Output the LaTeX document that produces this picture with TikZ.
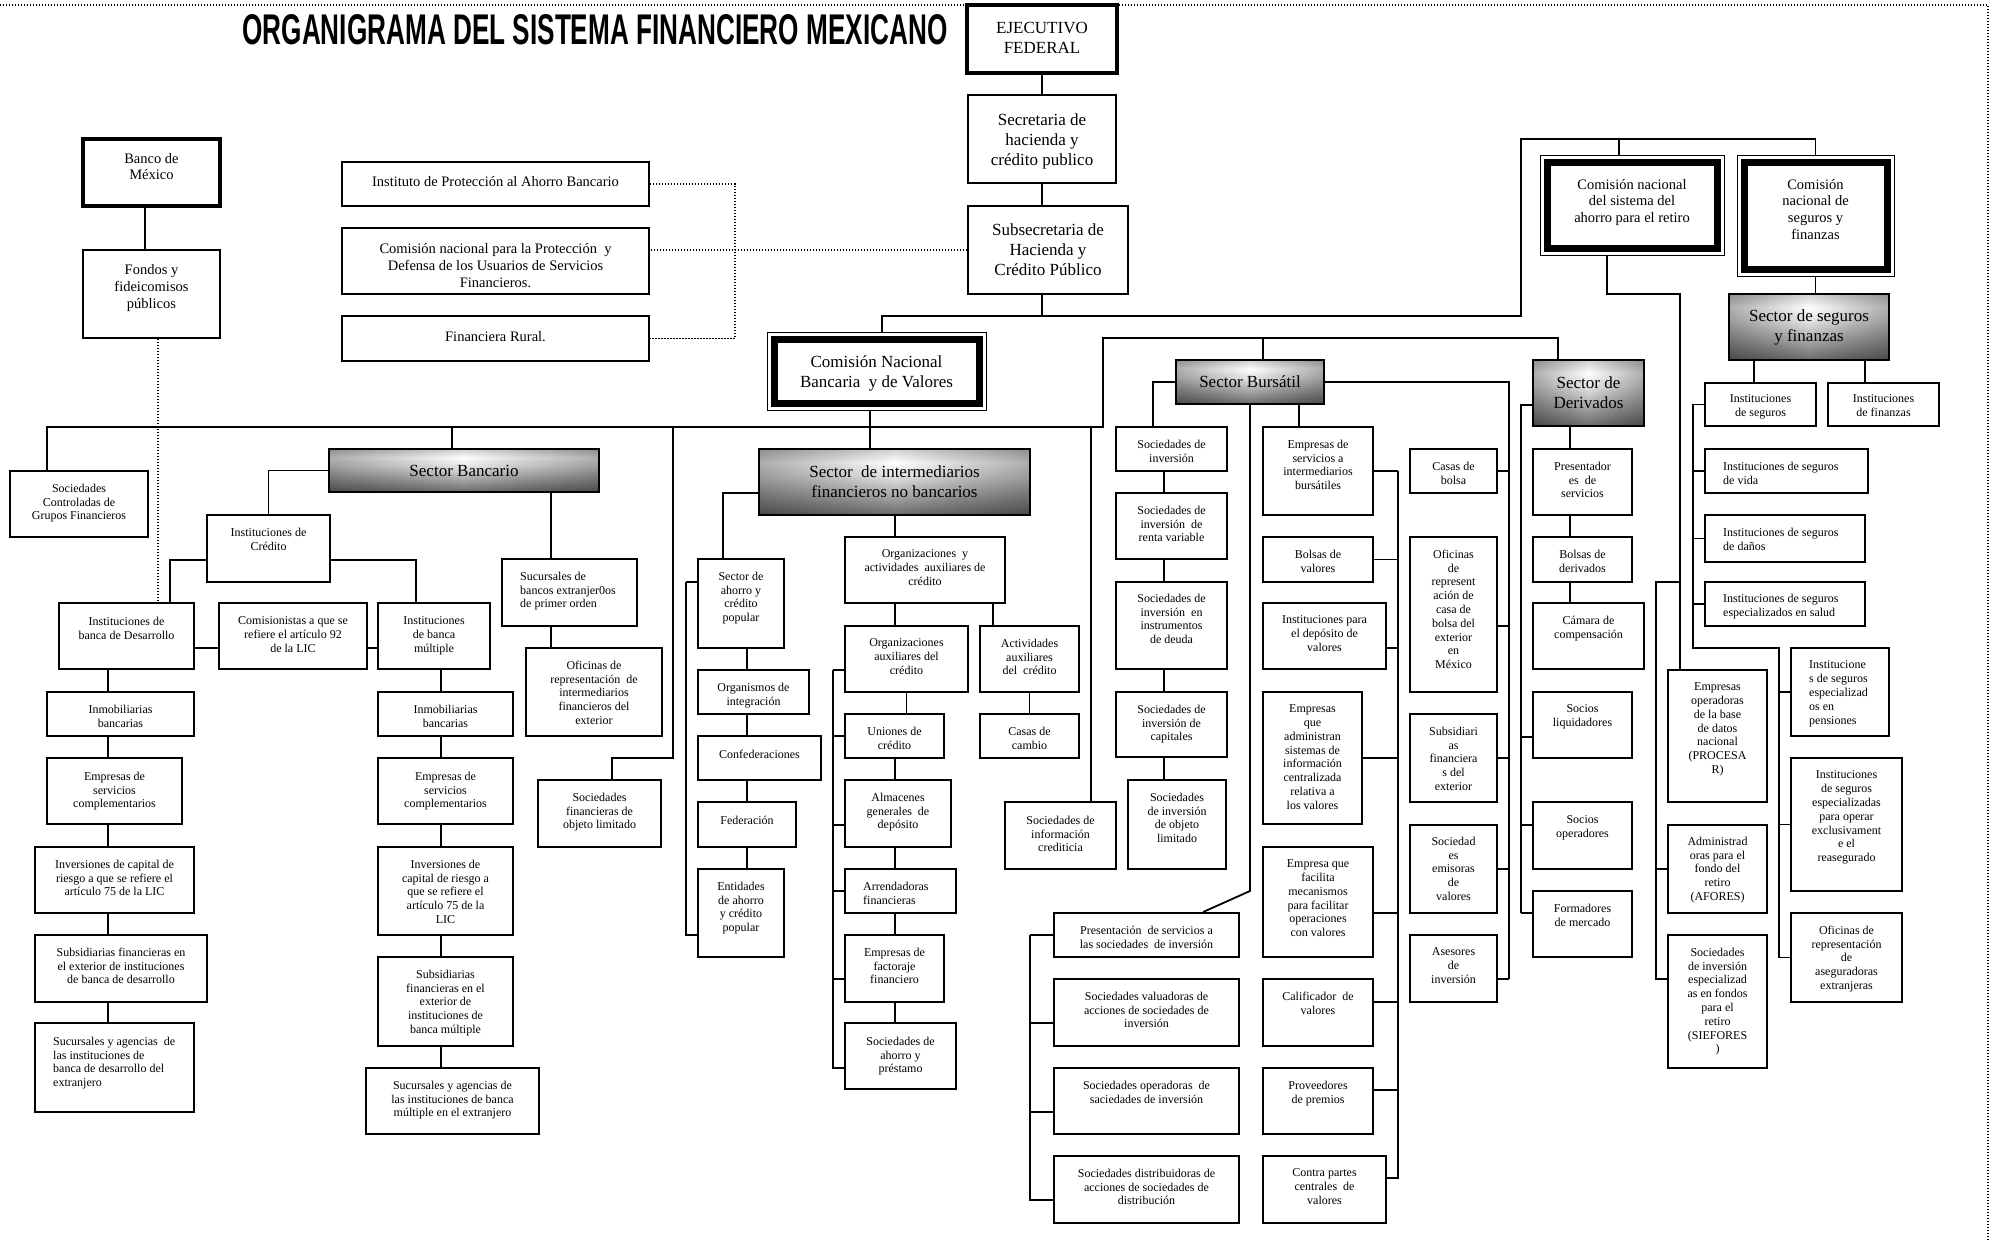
\documentclass[tikz,border=0pt]{standalone}
\usepackage{fontspec}
\setmainfont{Liberation Serif}
\newfontfamily\titlefont{Liberation Sans}
\usepackage{graphicx}
\usetikzlibrary{fadings}
\pgfdeclareverticalshading{sectshade}{100bp}{rgb(0bp)=(0.42,0.42,0.42); rgb(25bp)=(0.42,0.42,0.42); rgb(40bp)=(0.66,0.66,0.66); rgb(55bp)=(0.90,0.90,0.90); rgb(65bp)=(1,1,1); rgb(75bp)=(0.82,0.82,0.82); rgb(100bp)=(0.82,0.82,0.82)}
\tikzfading[name=sidefade, left color=transparent!68, right color=transparent!68, middle color=transparent!100]
\tikzset{
  box/.style={draw, line width=1.9pt, inner sep=0pt, fill=white},
  thickbox/.style={draw, line width=3.8pt, inner sep=0pt, fill=white},
  conn/.style={line width=1.8pt},
  dotconn/.style={line width=1.3pt, dash pattern=on 1.3pt off 1.7pt},
  fs/.style={font=\fontsize{12}{13.8}\selectfont, align=center, inner sep=0pt},
  fm/.style={font=\fontsize{14.5}{16.8}\selectfont, align=center, inner sep=0pt},
  fl/.style={font=\fontsize{17}{20}\selectfont, align=center, inner sep=0pt},
  sect/.style={draw, line width=1.9pt, inner sep=0pt, shading=sectshade, fl,
    path picture={\fill[black, path fading=sidefade] (path picture bounding box.south west) rectangle (path picture bounding box.north east);}},
}
% #1 text style, #2 name, #3 x1, #4 y1, #5 x2, #6 y2, #7 first line y, #8 text
\newcommand\obx[8][]{%
  \node[box, minimum width={(#5-#3)*1pt}, minimum height={(#6-#4)*1pt}] (#2) at ({(#3+#5)/2},{(#4+#6)/2}) {};
  \node[fs, anchor=north, #1] (#2t) at ({(#3+#5)/2},{#7-4.3}) {#8};}
\newcommand\obxl[8][]{%
  \node[box, minimum width={(#5-#3)*1pt}, minimum height={(#6-#4)*1pt}] (#2) at ({(#3+#5)/2},{(#4+#6)/2}) {};
  \node[fs, anchor=north west, align=left, #1] (#2t) at ({#3+18},{#7-4.3}) {#8};}
\begin{document}
\begin{tikzpicture}[x=1pt,y=-1pt]
\path[use as bounding box, fill=white] (0,0) rectangle (1996,1241);
% page frame
\draw[dotconn] (0,5) -- (1988,5) -- (1988,1241);
% title
\node[inner sep=0pt] (title) at (595,30) {\resizebox{705pt}{30pt}{\titlefont\bfseries ORGANIGRAMA DEL SISTEMA FINANCIERO MEXICANO}};

% ---------- top
\node[thickbox, minimum width=150pt, minimum height=68pt] (ejec) at (1042,39) {};
\node[fl, anchor=north] (eject) at (1042,21.9) {EJECUTIVO\\FEDERAL};
\obx[fl,yshift=-1.8pt]{secr}{968}{95}{1116}{183}{116}{Secretaria de\\hacienda y\\crédito publico}
\obx[fl,yshift=-1.8pt]{subs}{968}{206}{1128}{294}{226}{Subsecretaria de\\Hacienda y\\Crédito Público}

\node[thickbox, line width=3.4pt, minimum width=137pt, minimum height=67pt] (banx) at (151.5,172.5) {};
\node[fm, anchor=north] (banxt) at (151.5,152.8) {Banco de\\México};
\obx[fm,yshift=-0.9pt]{fond}{83}{250}{220}{338}{268}{Fondos y\\fideicomisos\\públicos}
\obx[fm,yshift=-0.9pt]{ipab}{342}{162}{649}{206}{180}{Instituto de Protección al Ahorro Bancario}
\obx[fm,yshift=-0.9pt]{cond}{342}{228}{649}{294}{247}{Comisión nacional para la Protección~ y\\Defensa de los Usuarios de Servicios\\Financieros.}
\obx[fm,yshift=-0.9pt]{frur}{342}{316}{649}{361}{335}{Financiera Rural.}

% double-border commissions
\node[draw, line width=1pt, fill=white, inner sep=0pt, minimum width=219pt, minimum height=78pt] (cnbv) at (876.5,371) {};
\node[draw, line width=7pt, inner sep=0pt, minimum width=205pt, minimum height=64pt] (cnbvin) at (876.5,371) {};
\node[fl] (cnbvt) at (876.5,373) {Comisión Nacional\\Bancaria~ y de Valores};

\node[draw, line width=1pt, fill=white, inner sep=0pt, minimum width=184pt, minimum height=100pt] (consar) at (1632,206) {};
\node[draw, line width=7pt, inner sep=0pt, minimum width=170pt, minimum height=86pt] (consarin) at (1632,206) {};
\node[fm, anchor=north] (consart) at (1632,178.8) {Comisión nacional\\del sistema del\\ahorro para el retiro};

\node[draw, line width=1pt, fill=white, inner sep=0pt, minimum width=157pt, minimum height=121pt] (cnsf) at (1815.5,216.5) {};
\node[draw, line width=7pt, inner sep=0pt, minimum width=143pt, minimum height=107pt] (cnsfin) at (1815.5,216.5) {};
\node[fm, anchor=north] (cnsft) at (1815.5,178.8) {Comisión\\nacional de\\seguros y\\finanzas};

% sector boxes
\node[sect, minimum width=270pt, minimum height=43pt] (sban) at (464,470.5) {Sector Bancario};
\node[sect, minimum width=271pt, minimum height=66pt] (sinter) at (894.5,482) {Sector~ de intermediarios\\financieros no bancarios};
\node[sect, minimum width=148pt, minimum height=44pt] (sbur) at (1250,382) {Sector Bursátil};
\node[sect, minimum width=111pt, minimum height=66pt] (sder) at (1588.5,393) {Sector de\\Derivados};
\node[sect, minimum width=160pt, minimum height=66pt] (sseg) at (1809,327) {Sector de seguros\\y finanzas};

% ---------- banking
\obx{sctrl}{10}{471}{148}{537}{488}{Sociedades\\Controladas de\\Grupos Financieros}
\obx{icred}{207}{515}{330}{582}{532}{Instituciones de\\Crédito}
\obx{ides}{59}{603}{194}{669}{621}{Instituciones de\\banca de Desarrollo}
\obx{comis}{219}{603}{367}{669}{621}{Comisionistas a que se\\refiere el artículo 92\\de la LIC}
\obx{imul}{378}{603}{490}{669}{621}{Instituciones\\de banca\\múltiple}
\obx{inm1}{47}{692}{194}{736}{709}{Inmobiliarias\\bancarias}
\obx{emp1}{47}{758}{182}{824}{776}{Empresas de\\servicios\\complementarios}
\obx{inv1}{35}{847}{194}{913}{864}{Inversiones de capital de\\riesgo a que se refiere el\\artículo 75 de la LIC}
\obx{sub1}{35}{935}{207}{1002}{952}{Subsidiarias financieras en\\el exterior de instituciones\\de banca de desarrollo}
\obxl{suc1}{35}{1023}{194}{1112}{1041}{Sucursales y agencias~ de\\las instituciones de\\banca de desarrollo del\\extranjero}
\obx{inm2}{378}{692}{513}{736}{709}{Inmobiliarias\\bancarias}
\obx{emp2}{378}{758}{513}{824}{776}{Empresas de\\servicios\\complementarios}
\obx{inv2}{378}{847}{513}{935}{864}{Inversiones de\\capital de riesgo a\\que se refiere el\\artículo 75 de la\\LIC}
\obx{sub2}{378}{957}{513}{1046}{974}{Subsidiarias\\financieras en el\\exterior de\\instituciones de\\banca múltiple}
\obx{suc2}{366}{1068}{539}{1134}{1085}{Sucursales y agencias de\\las instituciones de banca\\múltiple en el extranjero}
\obxl{sbe}{502}{559}{637}{626}{576}{Sucursales de\\bancos extranjer0os\\de primer orden}
\obx{ofi1}{526}{648}{662}{736}{665}{Oficinas de\\representación~ de\\intermediarios\\financieros del\\exterior}
\obx{sfol}{538}{780}{661}{847}{797}{Sociedades\\financieras de\\objeto limitado}

% ---------- non-bank intermediaries
\obx{sacp}{698}{559}{784}{648}{576}{Sector de\\ahorro y\\crédito\\popular}
\obx{orgi}{698}{670}{809}{714}{687}{Organismos de\\integración}
\obx{conf}{698}{736}{821}{780}{754}{Confederaciones}
\obx{fede}{698}{802}{796}{847}{820}{Federación}
\obx{enti}{698}{869}{784}{957}{886}{Entidades\\de ahorro\\y crédito\\popular}
\obx{oyaa}{845}{537}{1005}{603}{554}{Organizaciones~ y\\actividades~ auxiliares de\\crédito}
\obx{orga}{845}{626}{968}{692}{643}{Organizaciones\\auxiliares del\\crédito}
\obx{acta}{980}{626}{1079}{692}{643}{Actividades\\auxiliares\\del~ crédito}
\obx{casc}{980}{714}{1079}{758}{731}{Casas de\\cambio}
\obx{unio}{845}{714}{944}{758}{731}{Uniones de\\crédito}
\obx{alma}{845}{780}{951}{847}{797}{Almacenes\\generales~ de\\depósito}
\obxl{arre}{845}{869}{956}{913}{886}{Arrendadoras\\financieras}
\obx{fact}{845}{935}{944}{1002}{952}{Empresas de\\factoraje\\financiero}
\obx{sahp}{845}{1023}{956}{1089}{1041}{Sociedades de\\ahorro y\\préstamo}
\obx{sinf}{1005}{802}{1116}{869}{820}{Sociedades de\\información\\crediticia}

% ---------- bursatil
\obx{sinv}{1116}{427}{1227}{471}{444}{Sociedades de\\inversión}
\obx{srv}{1116}{493}{1227}{559}{510}{Sociedades de\\inversión~ de\\renta variable}
\obx{sdeu}{1116}{582}{1227}{669}{598}{Sociedades de\\inversión~ en\\instrumentos\\de deuda}
\obx{scap}{1116}{692}{1227}{757}{709}{Sociedades de\\inversión de\\capitales}
\obx{sobj}{1128}{780}{1226}{869}{797}{Sociedades\\de inversión\\de objeto\\limitado}
\obx{pres}{1054}{913}{1239}{957}{930}{Presentación~ de servicios a\\las sociedades~ de inversión}
\obx{sval}{1054}{979}{1239}{1046}{996}{Sociedades valuadoras de\\acciones de sociedades de\\inversión}
\obx{sope}{1054}{1068}{1239}{1134}{1085}{Sociedades operadoras~ de\\saciedades de inversión}
\obx{sdis}{1054}{1156}{1239}{1223}{1173}{Sociedades distribuidoras de\\acciones de sociedades de\\distribución}
\obx{esib}{1263}{427}{1373}{515}{444}{Empresas de\\servicios a\\intermediarios\\bursátiles}
\obx{bval}{1263}{537}{1373}{582}{554}{Bolsas de\\valores}
\obx{idep}{1263}{603}{1386}{669}{620}{Instituciones para\\el depósito de\\valores}
\obx{eadm}{1263}{692}{1362}{824}{709}{Empresas\\que\\administran\\sistemas de\\información\\centralizada\\relativa a\\los valores}
\obx{efac}{1263}{847}{1373}{957}{864}{Empresa que\\facilita\\mecanismos\\para facilitar\\operaciones\\con valores}
\obx{cval}{1263}{979}{1373}{1046}{996}{Calificador~ de\\valores}
\obx{prov}{1263}{1068}{1373}{1134}{1085}{Proveedores\\de premios}
\obx{cpar}{1263}{1156}{1386}{1223}{1173}{Contra partes\\centrales~ de\\valores}
\obx{cbol}{1410}{449}{1497}{493}{466}{Casas de\\bolsa}
\obx{ocb}{1410}{537}{1497}{692}{554}{Oficinas\\de\\represent\\ación de\\casa de\\bolsa del\\exterior\\en\\México}
\obx{sfe}{1410}{714}{1497}{802}{731}{Subsidiari\\as\\financiera\\s del\\exterior}
\obx{semi}{1410}{825}{1497}{913}{841}{Sociedad\\es\\emisoras\\de\\valores}
\obx{ases}{1410}{935}{1497}{1002}{952}{Asesores\\de\\inversión}

% ---------- derivados
\obx{pser}{1533}{449}{1632}{515}{466}{Presentador\\es~ de\\servicios}
\obx{bder}{1533}{537}{1632}{582}{554}{Bolsas de\\derivados}
\obx{ccom}{1533}{603}{1644}{669}{620}{Cámara de\\compensación}
\obx{sliq}{1533}{692}{1632}{758}{709}{Socios\\liquidadores}
\obx{sopr}{1533}{802}{1632}{869}{820}{Socios\\operadores}
\obx{fmer}{1533}{891}{1632}{957}{908}{Formadores\\de mercado}

% ---------- retiro
\obx{proc}{1668}{670}{1767}{802}{687}{Empresas\\operadoras\\de la base\\de datos\\nacional\\(PROCESA\\R)}
\obx{afor}{1668}{825}{1767}{913}{841}{Administrad\\oras para el\\fondo del\\retiro\\(AFORES)}
\obx{sief}{1668}{935}{1767}{1068}{952}{Sociedades\\de inversión\\especializad\\as en fondos\\para el\\retiro\\(SIEFORES\\)}

% ---------- seguros
\obx{iseg}{1705}{383}{1816}{426}{399}{Instituciones\\de seguros}
\obx{ifin}{1828}{383}{1939}{426}{399}{Instituciones\\de finanzas}
\obxl{svid}{1705}{449}{1868}{493}{466}{Instituciones de seguros\\de vida}
\obxl{sdan}{1705}{515}{1865}{562}{532}{Instituciones de seguros\\de daños}
\obxl{ssal}{1705}{582}{1865}{626}{598}{Instituciones de seguros\\especializados en salud}
\obxl{spen}{1791}{648}{1889}{736}{665}{Institucione\\s de seguros\\especializad\\os en\\pensiones}
\obx{srea}{1791}{758}{1902}{891}{775}{Instituciones\\de seguros\\especializadas\\para operar\\exclusivament\\e el\\reasegurado}
\obx{oase}{1791}{913}{1902}{1002}{930}{Oficinas de\\representación\\de\\aseguradoras\\extranjeras}

% ---------- reference coordinates
\coordinate (xSec) at (1042,0);
\coordinate (xB) at (145,0);   \coordinate (xBd) at (158,0);
\coordinate (xL) at (108,0);   \coordinate (xR) at (441,0);
\coordinate (xI1) at (170,0);  \coordinate (xI2) at (416,0);
\coordinate (xS) at (551,0);   \coordinate (xA) at (723,0);
\coordinate (xAc) at (747,0);  \coordinate (xO) at (895,0);
\coordinate (xO2) at (993,0);  \coordinate (xC) at (1164,0);
\coordinate (xC0) at (1153,0); \coordinate (xD) at (1570,0);
\coordinate (xN) at (870,0);   \coordinate (xSb) at (452,0);
\coordinate (xSc) at (47,0);   \coordinate (xSf) at (612,0);
\coordinate (xSi) at (1091,0); \coordinate (xBu) at (1263,0);
\coordinate (xEs) at (1299,0); \coordinate (xCn) at (882,0);
\coordinate (xCa) at (1619,0); \coordinate (xCs0) at (1607,0);
\coordinate (xIs) at (1754,0); \coordinate (xIf) at (1865,0);
\coordinate (xDe0) at (1558,0); \coordinate (xP) at (735,0);
\coordinate (xPd) at (1203,0);
\coordinate (bR) at (1103,427); \coordinate (bT) at (1103,338);
\coordinate (kA) at (1521,316); \coordinate (kB) at (1521,139);
\coordinate (kC) at (1680,294); \coordinate (kD) at (1656,582);
\coordinate (kE) at (1693,648); \coordinate (kF) at (1779,648);
\coordinate (k1) at (673,758);  \coordinate (k2) at (1250,891);
\coordinate (aT) at (686,582);  \coordinate (aB) at (686,935);
\coordinate (oT) at (833,670);  \coordinate (oB) at (833,1068);
\coordinate (eT) at (1398,471); \coordinate (eB) at (1398,1178);
\coordinate (pT) at (1030,935); \coordinate (pB) at (1030,1200);
\coordinate (cB) at (1509,979); \coordinate (dB) at (1521,913);

% ---------- connectors: top
\draw[conn] (ejec) -- (secr);
\draw[conn] (xSec |- secr.south) -- (xSec |- subs.north);
\draw[conn] (xSec |- subs.south) -- (xSec |- kA);
\draw[conn] (xCn |- cnbv.north) |- (kA) -- (kB) -| (cnsf.north);
\draw[conn] (xCa |- consar.north) -- (xCa |- kB);
\draw[conn] (xCs0 |- consar.south) |- (kC) -- (kC |- proc.north);
\draw[conn] (kD -| kC) -- (kD) |- ([yshift=22.5pt]sief.west);
\draw[conn] (afor.west) -| (kD);
\draw[conn] (cnsf.south) -- (cnsf.south |- sseg.north);
\draw[conn] (xIs |- sseg.south) -- (xIs |- iseg.north);
\draw[conn] (xIf |- sseg.south) -- (xIf |- ifin.north);
\draw[conn] (iseg.west) -| (kE) -- (kF) |- (oase.west);
\foreach \n in {svid,sdan,ssal} \draw[conn] (\n.west) -| (kE);
\foreach \n in {spen,srea} \draw[conn] (\n.west) -| (kF);

% Banco de Mexico and dotted links
\draw[conn] (xB |- banx.south) -- (xB |- fond.north);
\draw[dotconn] (xBd |- fond.south) -- (xBd |- ides.north);
\draw[dotconn] (subs.west) -- (subs.west -| cond.east);
\draw[dotconn] (ipab.east) -| (xP |- frur.east) -- (frur.east);

% main bus
\draw[conn] (xSc |- sctrl.north) |- (bR) -- (bT) -| (xDe0 |- sder.north);
\draw[conn] (xSb |- sban.north) |- (bR);
\draw[conn] (k1 |- bR) -- (k1) -| (xSf |- sfol.north);
\draw[conn] (xN |- cnbv.south) -- (xN |- sinter.north);
\draw[conn] (xSi |- sinf.north) |- (bR);
\draw[conn] (xBu |- sbur.north) |- (bT);

% banking
\draw[conn] (sban.west) -| (icred.north);
\draw[conn] ([yshift=-11.5pt]icred.west) -| (xI1 |- ides.north);
\draw[conn] ([yshift=-11.5pt]icred.east) -| (xI2 |- imul.north);
\draw[conn] ([yshift=-12pt]ides.east) -- ([yshift=-12pt]comis.west);
\draw[conn] ([yshift=-12pt]comis.east) -- ([yshift=-12pt]imul.west);
\foreach \a/\b in {ides/inm1,inm1/emp1,emp1/inv1,inv1/sub1,sub1/suc1}
  \draw[conn] (xL |- \a.south) -- (xL |- \b.north);
\foreach \a/\b in {imul/inm2,inm2/emp2,emp2/inv2,inv2/sub2,sub2/suc2}
  \draw[conn] (xR |- \a.south) -- (xR |- \b.north);
\draw[conn] (xS |- sban.south) -- (xS |- sbe.north);
\draw[conn] (xS |- sbe.south) -- (xS |- ofi1.north);

% non-bank
\draw[conn] ([yshift=-11pt]sinter.west) -| (xA |- sacp.north);
\foreach \a/\b in {sacp/orgi,orgi/conf,conf/fede,fede/enti}
  \draw[conn] (xAc |- \a.south) -- (xAc |- \b.north);
\draw[conn] (aT) -- (aB);
\draw[conn] ([yshift=21.5pt]sacp.west) -| (aT);
\draw[conn] ([yshift=-22pt]enti.west) -| (aT);
\draw[conn] (xO |- sinter.south) -- (xO |- oyaa.north);
\draw[conn] (xO |- oyaa.south) -- (xO |- orga.north);
\draw[conn] (xO2 |- oyaa.south) -- (xO2 |- acta.north);
\draw[conn] (acta.south) -- (acta.south |- casc.north);
\draw[conn] (orga.south) -- (orga.south |- unio.north);
\foreach \a/\b in {unio/alma,alma/arre,arre/fact,fact/sahp}
  \draw[conn] (xO |- \a.south) -- (xO |- \b.north);
\draw[conn] (oT) -- (oB);
\draw[conn] ([yshift=-11pt]orga.west) -| (oT);
\draw[conn] (unio.west) -| (oT);
\draw[conn] ([yshift=-11.5pt]alma.west) -| (oT);
\draw[conn] (arre.west) -| (oT);
\draw[conn] ([yshift=-10.5pt]fact.west) -| (oT);
\draw[conn] ([yshift=-12pt]sahp.west) -| (oT);

% bursatil
\draw[conn] (sbur.west) -| (xC0 |- sinv.north);
\draw[conn] (xEs |- sbur.south) -- (xEs |- esib.north);
\draw[conn] (sbur.south) -- (k2) -- (xPd |- pres.north);
\foreach \a/\b in {sinv/srv,srv/sdeu,sdeu/scap,scap/sobj}
  \draw[conn] (xC |- \a.south) -- (xC |- \b.north);
\draw[conn] (eT) -- (eB);
\draw[conn] (esib.east) -| (eT);
\draw[conn] (bval.east) -| (eT);
\draw[conn] ([yshift=-12pt]idep.east) -| (eT);
\draw[conn] (eadm.east) -| (eT);
\draw[conn] ([yshift=-11pt]efac.east) -| (eT);
\draw[conn] ([yshift=10.5pt]cval.east) -| (eT);
\draw[conn] ([yshift=11pt]prov.east) -| (eT);
\draw[conn] ([yshift=11.5pt]cpar.east) -| (eT);
\draw[conn] (pT) -- (pB);
\draw[conn] (pres.west) -| (pT);
\draw[conn] ([yshift=-10.5pt]sval.west) -| (pT);
\draw[conn] ([yshift=-11pt]sope.west) -| (pT);
\draw[conn] ([yshift=-10.5pt]sdis.west) -| (pT);
\draw[conn] (sbur.east) -| (cB);
\draw[conn] (cbol.east) -| (cB);
\draw[conn] ([yshift=-11.5pt]ocb.east) -| (cB);
\draw[conn] (sfe.east) -| (cB);
\draw[conn] (semi.east) -| (cB);
\draw[conn] ([yshift=-10.5pt]ases.east) -| (cB);

% derivados
\draw[conn] ([yshift=-12pt]sder.west) -| (dB);
\draw[conn] ([yshift=-12pt]sliq.west) -| (dB);
\draw[conn] ([yshift=10.5pt]sopr.west) -| (dB);
\draw[conn] ([yshift=11pt]fmer.west) -| (dB);
\foreach \a/\b in {sder/pser,pser/bder,bder/ccom}
  \draw[conn] (xD |- \a.south) -- (xD |- \b.north);
\end{tikzpicture}
\end{document}
